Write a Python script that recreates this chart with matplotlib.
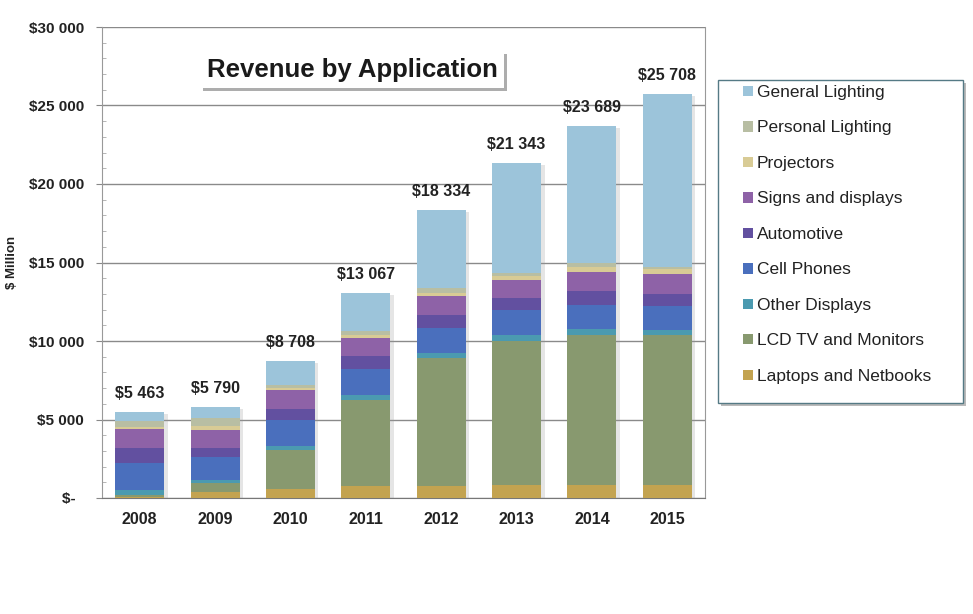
import numpy as np
import matplotlib.pyplot as plt
import matplotlib.patheffects as pe
from matplotlib.patches import Rectangle
from matplotlib.ticker import MultipleLocator, FuncFormatter

plt.rcParams['font.family'] = ['Liberation Sans', 'DejaVu Sans']

years = ["2008", "2009", "2010", "2011", "2012", "2013", "2014", "2015"]
totals = [5463, 5790, 8708, 13067, 18334, 21343, 23689, 25708]

# stacked from bottom to top
laptops = [60, 400, 555, 766, 766, 830, 830, 830]
lcd_tv = [100, 575, 2510, 5487, 8145, 9145, 9570, 9570]
other_displays = [350, 170, 255, 320, 320, 425, 362, 319]
cell_phones = [1700, 1490, 1660, 1637, 1595, 1595, 1553, 1489]
automotive = [1000, 575, 700, 808, 850, 745, 850, 787]
signs = [1170, 1130, 1170, 1170, 1170, 1170, 1233, 1276]
projectors = [170, 255, 150, 213, 213, 225, 325, 300]
personal = [360, 490, 213, 213, 320, 200, 250, 150]
general = [553, 705, 1495, 2453, 4955, 7008, 8716, 10987]

series = [
    ("Laptops and Netbooks", laptops, "#C3A350"),
    ("LCD TV and Monitors", lcd_tv, "#88996F"),
    ("Other Displays", other_displays, "#4B9AB0"),
    ("Cell Phones", cell_phones, "#4A6FBD"),
    ("Automotive", automotive, "#6250A0"),
    ("Signs and displays", signs, "#8E62A7"),
    ("Projectors", projectors, "#D8CB95"),
    ("Personal Lighting", personal, "#B8BEA3"),
    ("General Lighting", general, "#9CC4DA"),
]

fig = plt.figure(figsize=(9.73, 6.14), dpi=100)
ax = fig.add_axes([102 / 973, 1 - 498 / 614, (705 - 102) / 973, (498 - 27) / 614])

x = np.arange(len(years))
width = 0.65

# soft shadow behind each full bar
ax.bar(x, totals, width, color="white", zorder=2,
       path_effects=[pe.SimplePatchShadow(offset=(2.5, -1.5), shadow_rgbFace="#999999", alpha=0.25), pe.Normal()])

bottom = np.zeros(len(years))
handles = []
for name, vals, col in series:
    b = ax.bar(x, vals, width, bottom=bottom, color=col, label=name, zorder=3)
    handles.append(b)
    bottom += np.array(vals)

for xi, t in zip(x, totals):
    ax.annotate(f"${t:,}".replace(",", " "), (xi, t), xytext=(0, 8), textcoords="offset points",
                ha="center", va="bottom", fontsize=11.5, fontweight="bold", color="#222222")

ax.set_xlim(-0.5, len(years) - 0.5)
ax.set_ylim(0, 30000)
ax.set_xticks(x)
ax.set_xticklabels(years, fontsize=11.5, fontweight="bold", color="#222222")
ax.tick_params(axis="x", length=0, pad=10)

ax.yaxis.set_major_locator(MultipleLocator(5000))
ax.yaxis.set_minor_locator(MultipleLocator(1000))
ax.yaxis.set_major_formatter(FuncFormatter(lambda v, p: "$-  " if v == 0 else f"${int(v):,}".replace(",", " ")))
ax.tick_params(axis="y", which="major", length=4, color="#888888", labelsize=11, labelcolor="#222222", pad=9)
ax.tick_params(axis="y", which="minor", direction="in", length=3, color="#aaaaaa")
plt.setp(ax.get_yticklabels(), fontweight="bold")

ax.grid(axis="y", which="major", color="#8a8a8a", linewidth=1, zorder=0)
ax.set_axisbelow(True)
for s in ax.spines.values():
    s.set_color("#999999")
ax.spines["top"].set_visible(False)
ax.spines["bottom"].set_color("#777777")

fig.text(12 / 973, 1 - 262 / 614, "$ Million", rotation=90, ha="center", va="center",
         fontsize=9.5, fontweight="bold", color="#222222")

title = fig.text(352 / 973, 1 - 70 / 614, "Revenue by Application", ha="center", va="center",
                 fontsize=18.5, fontweight="bold", color="#1a1a1a",
                 bbox=dict(boxstyle="square,pad=0.25", fc="white", ec="none"))
title.get_bbox_patch().set_path_effects(
    [pe.SimplePatchShadow(offset=(2, -2), shadow_rgbFace="#777777", alpha=0.6), pe.Normal()])

# legend frame drawn separately so the inner padding can match
frame = Rectangle((718 / 973, 1 - 403 / 614), (963 - 718) / 973, (403 - 80) / 614,
                  transform=fig.transFigure, fc="white", ec="#557a85", lw=1.0, zorder=1,
                  path_effects=[pe.SimplePatchShadow(offset=(2, -2), shadow_rgbFace="#777777", alpha=0.5),
                                pe.Normal()])
fig.patches.append(frame)

leg = fig.legend(handles[::-1], [s[0] for s in series][::-1], loc="upper left",
                 bbox_to_anchor=(743 / 973, 1 - 85 / 614),
                 fontsize=12.5, frameon=False,
                 handlelength=0.55, handleheight=0.55, handletextpad=0.25,
                 labelspacing=1.18, borderpad=0.0, borderaxespad=0)
for t in leg.get_texts():
    t.set_color("#222222")

fig.savefig("out.png", dpi=100)
